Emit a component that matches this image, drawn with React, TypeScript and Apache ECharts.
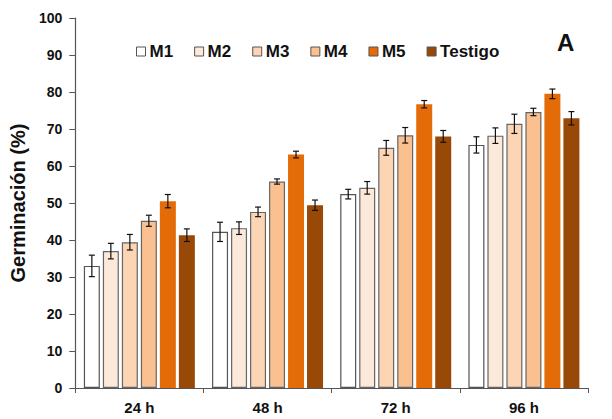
import React, { useEffect, useRef } from "react";
import * as echarts from "echarts";

const categories = ["24 h", "48 h", "72 h", "96 h"];
const seriesNames = ["M1", "M2", "M3", "M4", "M5", "Testigo"];
const colors = ["#FFFFFF", "#FDE9D9", "#FCD5B5", "#FAC090", "#E36C09", "#984807"];
const borders = ["#555555", "#666666", "#666666", "#666666", "#E36C09", "#984807"];

const M1 = [33.0, 42.2, 52.4, 65.7];
const M2 = [37.0, 43.2, 54.1, 68.2];
const M3 = [39.4, 47.6, 64.9, 71.4];
const M4 = [45.2, 55.8, 68.3, 74.6];
const M5 = [50.5, 63.1, 76.7, 79.5];
const Testigo = [41.3, 49.4, 68.0, 72.9];

const errM1 = [2.9, 2.6, 1.3, 2.2];
const errM2 = [2.1, 1.7, 1.7, 2.1];
const errM3 = [2.1, 1.3, 2.0, 2.6];
const errM4 = [1.5, 0.7, 2.1, 1.0];
const errM5 = [1.8, 0.9, 1.0, 1.3];
const errTestigo = [1.7, 1.4, 1.6, 1.8];

const values = [M1, M2, M3, M4, M5, Testigo];
const errors = [errM1, errM2, errM3, errM4, errM5, errTestigo];

const BAR_W = 16;
const BAR_GAP = 3;
const FONT = "Liberation Sans, Arial, sans-serif";

export default function App() {
  const ref = useRef<HTMLDivElement>(null);
  useEffect(() => {
    if (!ref.current) return;
    const chart = echarts.init(ref.current, null, { renderer: "svg" });
    const n = seriesNames.length;
    const total = n * BAR_W + (n - 1) * BAR_GAP;
    const barSeries = seriesNames.map((name, i) => ({
      name,
      type: "bar",
      data: values[i],
      barWidth: BAR_W,
      barGap: (BAR_GAP / BAR_W) * 100 + "%",
      itemStyle: { color: colors[i], borderColor: borders[i], borderWidth: i < 4 ? 1.2 : 0 },
      z: 2,
    }));
    const errSeries = seriesNames.map((name, i) => ({
      name: name + "_err",
      type: "custom",
      z: 5,
      data: values[i].map((v, k) => [k, v - errors[i][k], v + errors[i][k]]),
      renderItem: (params: any, api: any) => {
        const x = api.value(0);
        const lo = api.coord([x, api.value(1)]);
        const hi = api.coord([x, api.value(2)]);
        const off = -total / 2 + BAR_W / 2 + i * (BAR_W + BAR_GAP);
        const cx = lo[0] + off;
        const cap = 3;
        const st = { stroke: "#111", lineWidth: 1.2 };
        return {
          type: "group",
          children: [
            { type: "line", shape: { x1: cx, y1: lo[1], x2: cx, y2: hi[1] }, style: st },
            { type: "line", shape: { x1: cx - cap, y1: lo[1], x2: cx + cap, y2: lo[1] }, style: st },
            { type: "line", shape: { x1: cx - cap, y1: hi[1], x2: cx + cap, y2: hi[1] }, style: st },
          ],
        };
      },
    }));
    chart.setOption({
      animation: false,
      backgroundColor: "#FFFFFF",
      textStyle: { fontFamily: FONT },
      grid: { left: 71, right: 24, top: 18, bottom: 31, containLabel: false },
      legend: {
        data: seriesNames,
        left: 131,
        top: 38,
        itemWidth: 9,
        itemHeight: 9,
        itemGap: 21,
        icon: "rect",
        textStyle: { fontSize: 17, fontWeight: "bold", color: "#111", padding: [0, 0, 0, -1] },
        itemStyle: { borderColor: "#555", borderWidth: 1 },
      },
      graphic: [
        {
          type: "text",
          left: 557,
          top: 30,
          style: { text: "A", fontSize: 24, fontWeight: "bold", fill: "#111", fontFamily: FONT },
        },
      ],
      xAxis: {
        type: "category",
        data: categories,
        axisLine: { lineStyle: { color: "#555", width: 1.2 } },
        axisTick: { show: true, length: 5, lineStyle: { color: "#555" } },
        axisLabel: { fontSize: 15, fontWeight: "bold", color: "#111", margin: 12 },
      },
      yAxis: {
        type: "value",
        min: 0,
        max: 100,
        interval: 10,
        name: "Germinación (%)",
        nameLocation: "middle",
        nameGap: 45,
        nameTextStyle: { fontSize: 20, fontWeight: "bold", color: "#111" },
        axisLine: { show: true, lineStyle: { color: "#555", width: 1.2 } },
        axisTick: { show: true, length: 6, lineStyle: { color: "#555" } },
        axisLabel: { fontSize: 14, fontWeight: "bold", color: "#111", margin: 13 },
        splitLine: { show: false },
      },
      series: [...barSeries, ...errSeries],
    });
    return () => chart.dispose();
  }, []);
  return <div ref={ref} style={{ width: 612, height: 419, position: "absolute", left: 0, top: 0 }} />;
}
